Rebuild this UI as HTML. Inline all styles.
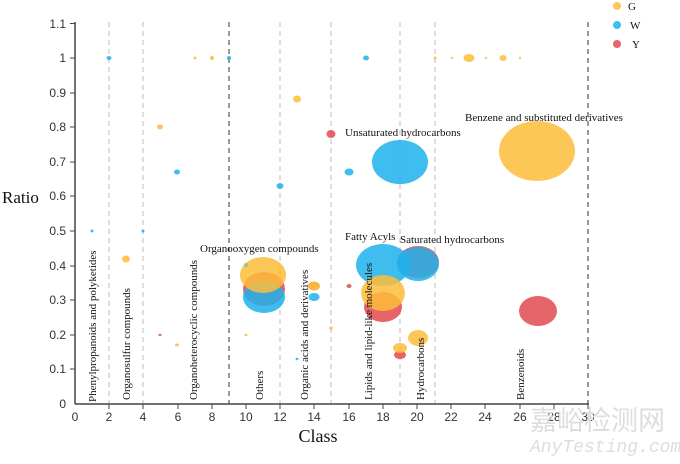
<!DOCTYPE html>
<html><head><meta charset="utf-8"><style>body{margin:0;background:#fff}svg{display:block}</style></head><body>
<svg width="680" height="464" xmlns="http://www.w3.org/2000/svg" font-family="Liberation Serif, serif">
<g stroke="#bbb" stroke-dasharray="5,4" stroke-width="1">
<line x1="109" y1="22" x2="109" y2="404"/><line x1="143" y1="22" x2="143" y2="404"/>
<line x1="280" y1="22" x2="280" y2="404"/><line x1="331" y1="22" x2="331" y2="404"/>
<line x1="400" y1="22" x2="400" y2="404"/><line x1="435" y1="22" x2="435" y2="404"/>
</g>
<g stroke="#333" stroke-dasharray="5,4" stroke-width="1">
<line x1="229" y1="22" x2="229" y2="404"/><line x1="588" y1="22" x2="588" y2="404"/>
</g>
<g fill-opacity="0.85">
<ellipse cx="109" cy="58" rx="2.5" ry="2" fill="#1fb2ec"/>
<ellipse cx="195" cy="58" rx="1.5" ry="1.5" fill="#fdbd3a"/>
<ellipse cx="212" cy="58" rx="2" ry="2" fill="#fdbd3a"/>
<ellipse cx="229" cy="58" rx="2" ry="2" fill="#1fb2ec"/>
<ellipse cx="297" cy="99" rx="4" ry="3.5" fill="#fdbd3a"/>
<ellipse cx="331" cy="134" rx="4.5" ry="4" fill="#e04a50"/>
<ellipse cx="160" cy="127" rx="3" ry="2.5" fill="#fdbd3a"/>
<ellipse cx="177" cy="172" rx="3" ry="2.5" fill="#1fb2ec"/>
<ellipse cx="280" cy="186" rx="3.5" ry="3" fill="#1fb2ec"/>
<ellipse cx="349" cy="172" rx="4.5" ry="3.5" fill="#1fb2ec"/>
<ellipse cx="400" cy="162" rx="28" ry="22" fill="#1fb2ec"/>
<ellipse cx="537" cy="151" rx="38" ry="30" fill="#fdbd3a"/>
<ellipse cx="366" cy="58" rx="3" ry="2.5" fill="#1fb2ec"/>
<ellipse cx="435" cy="58" rx="1.5" ry="1.5" fill="#fdbd3a"/>
<ellipse cx="452" cy="58" rx="1.2" ry="1.2" fill="#fdbd3a"/>
<ellipse cx="469" cy="58" rx="5.5" ry="4" fill="#fdbd3a"/>
<ellipse cx="486" cy="58" rx="1.2" ry="1.2" fill="#fdbd3a"/>
<ellipse cx="503" cy="58" rx="3.5" ry="3" fill="#fdbd3a"/>
<ellipse cx="520" cy="58" rx="1.2" ry="1.2" fill="#fdbd3a"/>
<ellipse cx="92" cy="231" rx="1.5" ry="1.5" fill="#1fb2ec"/>
<ellipse cx="143" cy="231" rx="1.5" ry="1.5" fill="#1fb2ec"/>
<ellipse cx="126" cy="259" rx="4" ry="3.5" fill="#fdbd3a"/>
<ellipse cx="264" cy="289" rx="21" ry="17" fill="#e04a50"/>
<ellipse cx="264" cy="297" rx="21" ry="16" fill="#1fb2ec"/>
<ellipse cx="263" cy="275" rx="23" ry="18" fill="#fdbd3a"/>
<ellipse cx="246" cy="265" rx="2" ry="2" fill="#9b9"/>
<ellipse cx="280" cy="272" rx="2" ry="2" fill="#fdbd3a"/>
<ellipse cx="314" cy="286" rx="6" ry="4.5" fill="#f9a825"/>
<ellipse cx="314" cy="297" rx="5.5" ry="4" fill="#1fb2ec"/>
<ellipse cx="331" cy="328" rx="2" ry="1.5" fill="#fdbd3a"/>
<ellipse cx="246" cy="335" rx="1.5" ry="1.2" fill="#fdbd3a"/>
<ellipse cx="160" cy="335" rx="1.5" ry="1.2" fill="#e04a50"/>
<ellipse cx="177" cy="345" rx="2" ry="1.5" fill="#fdbd3a"/>
<ellipse cx="297" cy="359" rx="1.5" ry="1.2" fill="#1fb2ec"/>
<ellipse cx="349" cy="286" rx="2.5" ry="2" fill="#e04a50"/>
<ellipse cx="418" cy="262" rx="21" ry="16" fill="#e04a50"/>
<ellipse cx="383" cy="265" rx="27" ry="21" fill="#1fb2ec"/>
<ellipse cx="418" cy="264" rx="21" ry="17" fill="#1fb2ec"/>
<ellipse cx="383" cy="307" rx="19" ry="15" fill="#e04a50"/>
<ellipse cx="383" cy="293" rx="22" ry="18" fill="#fdbd3a"/>
<ellipse cx="418" cy="338" rx="10" ry="8" fill="#fdbd3a"/>
<ellipse cx="400" cy="355" rx="6" ry="4" fill="#e04a50"/>
<ellipse cx="400" cy="348" rx="7" ry="5" fill="#fdbd3a"/>
<ellipse cx="538" cy="311" rx="19" ry="15" fill="#e04a50"/>
</g>
<g stroke="#444" stroke-width="1.5" fill="none">
<line x1="75" y1="22" x2="75" y2="404"/><line x1="75" y1="404" x2="589" y2="404"/>
</g>
<g stroke="#444" stroke-width="1">
<line x1="70" y1="23.5" x2="75" y2="23.5"/><line x1="70" y1="58" x2="75" y2="58"/><line x1="70" y1="93" x2="75" y2="93"/><line x1="70" y1="127" x2="75" y2="127"/><line x1="70" y1="162" x2="75" y2="162"/><line x1="70" y1="196" x2="75" y2="196"/><line x1="70" y1="231" x2="75" y2="231"/><line x1="70" y1="266" x2="75" y2="266"/><line x1="70" y1="300" x2="75" y2="300"/><line x1="70" y1="335" x2="75" y2="335"/><line x1="70" y1="369" x2="75" y2="369"/>
<line x1="109" y1="404" x2="109" y2="409"/><line x1="143" y1="404" x2="143" y2="409"/><line x1="178" y1="404" x2="178" y2="409"/><line x1="212" y1="404" x2="212" y2="409"/><line x1="246" y1="404" x2="246" y2="409"/><line x1="280" y1="404" x2="280" y2="409"/><line x1="314" y1="404" x2="314" y2="409"/><line x1="349" y1="404" x2="349" y2="409"/><line x1="383" y1="404" x2="383" y2="409"/><line x1="417" y1="404" x2="417" y2="409"/><line x1="451" y1="404" x2="451" y2="409"/><line x1="485" y1="404" x2="485" y2="409"/><line x1="520" y1="404" x2="520" y2="409"/><line x1="554" y1="404" x2="554" y2="409"/><line x1="588" y1="404" x2="588" y2="409"/>
</g>
<g font-family="Liberation Sans, sans-serif" font-size="12" fill="#333" text-anchor="end">
<text x="66" y="28">1.1</text><text x="66" y="62">1</text><text x="66" y="97">0.9</text><text x="66" y="131">0.8</text><text x="66" y="166">0.7</text><text x="66" y="200">0.6</text><text x="66" y="235">0.5</text><text x="66" y="270">0.4</text><text x="66" y="304">0.3</text><text x="66" y="339">0.2</text><text x="66" y="373">0.1</text><text x="66" y="408">0</text>
</g>
<g font-family="Liberation Sans, sans-serif" font-size="12" fill="#333" text-anchor="middle">
<text x="75" y="421">0</text><text x="109" y="421">2</text><text x="143" y="421">4</text><text x="178" y="421">6</text><text x="212" y="421">8</text><text x="246" y="421">10</text><text x="280" y="421">12</text><text x="314" y="421">14</text><text x="349" y="421">16</text><text x="383" y="421">18</text><text x="417" y="421">20</text><text x="451" y="421">22</text><text x="485" y="421">24</text><text x="520" y="421">26</text><text x="554" y="421">28</text><text x="588" y="421">30</text>
</g>
<text x="2" y="203" font-size="17" fill="#111">Ratio</text>
<text x="318" y="442" font-size="18" fill="#111" text-anchor="middle">Class</text>
<g font-size="11" fill="#111">
<text transform="translate(96,402) rotate(-90)">Phenylpropanoids and polyketides</text>
<text transform="translate(130,400) rotate(-90)">Organosulfur compounds</text>
<text transform="translate(197,400) rotate(-90)">Organoheterocyclic compounds</text>
<text transform="translate(263,400) rotate(-90)">Others</text>
<text transform="translate(308,400) rotate(-90)">Organic acids and derivatives</text>
<text transform="translate(372,400) rotate(-90)">Lipids and lipid-like molecules</text>
<text transform="translate(424,400) rotate(-90)">Hydrocarbons</text>
<text transform="translate(524,400) rotate(-90)">Benzenoids</text>
<text x="200" y="252">Organooxygen compounds</text>
<text x="345" y="136">Unsaturated hydrocarbons</text>
<text x="465" y="121">Benzene and substituted derivatives</text>
<text x="345" y="240">Fatty Acyls</text>
<text x="400" y="243">Saturated hydrocarbons</text>
</g>
<circle cx="617" cy="6" r="4" fill="#fdbd3a" fill-opacity="0.85"/>
<circle cx="617" cy="25" r="4" fill="#1fb2ec" fill-opacity="0.85"/>
<circle cx="617" cy="44" r="4" fill="#e04a50" fill-opacity="0.85"/>
<g font-size="11" fill="#111"><text x="628" y="10">G</text><text x="630" y="29">W</text><text x="632" y="48">Y</text></g>
<text x="530" y="430" font-family="Noto Sans CJK SC, sans-serif" font-size="27" fill="#ddd">嘉峪检测网</text>
<text x="530" y="452" font-family="Liberation Mono, monospace" font-style="italic" font-size="18" fill="#ddd">AnyTesting.com</text>
</svg>
</body></html>
